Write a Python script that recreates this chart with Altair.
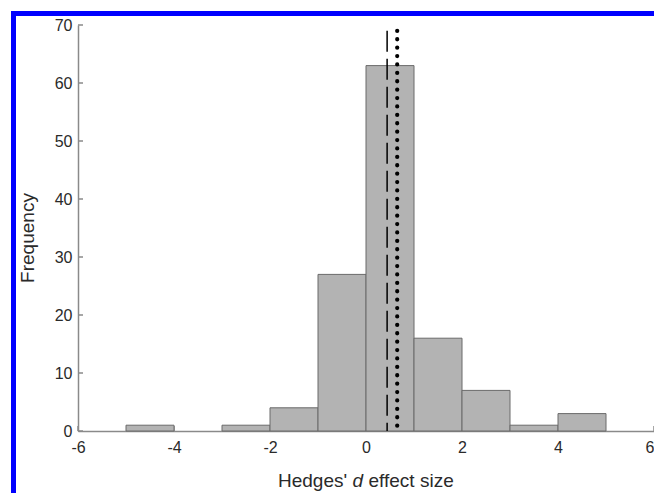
import altair as alt
import pandas as pd

# ---- data ----
bin_start = [-5, -4, -3, -2, -1, 0, 1, 2, 3, 4]
bin_end = [-4, -3, -2, -1, 0, 1, 2, 3, 4, 5]
counts = [1, 0, 1, 4, 27, 63, 16, 7, 1, 3]

dashed_x = [0.44]
dotted_x = [0.65]
line_top = [69]

x_ticks = [-6, -4, -2, 0, 2, 4, 6]
y_ticks = [0, 10, 20, 30, 40, 50, 60, 70]

x_title_parts = ["Hedges'", "d", "effect size"]
y_title = "Frequency"

FONT = "Liberation Sans, Arial, sans-serif"
AXIS_GRAY = "#8a8a8a"
TEXT = "#2a2a2a"

hist = pd.DataFrame({"start": bin_start, "end": bin_end, "count": counts})
xscale = alt.Scale(domain=[-6, 6], nice=False, zero=False)
yscale = alt.Scale(domain=[0, 70], nice=False)

x_axis = alt.Axis(values=x_ticks, title=None, grid=False, ticks=False, tickSize=0,
                  labelPadding=8, labelFlush=False, labelOverlap=False,
                  labelAlign={"expr": "datum.value == 6 ? 'right' : 'center'"},
                  labelExpr="'' + datum.value")
y_axis = alt.Axis(values=y_ticks, title=None, grid=False, ticks=False, tickSize=0,
                  labelPadding=6, labelOverlap=False,
                  labelExpr="'' + datum.value")

# inward tick marks
yt = alt.Chart(pd.DataFrame({"v": y_ticks})).mark_rule(
    color=AXIS_GRAY, strokeWidth=1.5
).encode(
    y=alt.Y("v:Q", scale=yscale, axis=y_axis),
    x=alt.value(0), x2=alt.value(5),
)
xt = alt.Chart(pd.DataFrame({"v": x_ticks})).mark_rule(
    color=AXIS_GRAY, strokeWidth=1.5
).encode(
    x=alt.X("v:Q", scale=xscale, axis=x_axis),
    y=alt.value(406), y2=alt.value(401),
)

bars = alt.Chart(hist).transform_filter("datum.count > 0").mark_bar(
    fill="#b3b3b3", stroke="#6a6a6a", strokeWidth=1
).encode(
    x=alt.X("start:Q", scale=xscale, axis=x_axis),
    x2="end:Q",
    y=alt.Y("count:Q", scale=yscale, axis=y_axis),
    y2=alt.datum(0),
)

dashed = alt.Chart(pd.DataFrame({"x": dashed_x, "top": line_top})).mark_rule(
    color="black", strokeWidth=1.5, strokeDash=[21, 7]
).encode(
    x=alt.X("x:Q", scale=xscale),
    y=alt.Y("top:Q", scale=yscale),
    y2=alt.datum(0),
)

dotted = alt.Chart(pd.DataFrame({"x": dotted_x, "top": line_top})).mark_rule(
    color="black", strokeWidth=4.2, strokeDash=[0.1, 8.3], strokeCap="round"
).encode(
    x=alt.X("x:Q", scale=xscale),
    y=alt.Y("top:Q", scale=yscale),
    y2=alt.datum(0),
)

# x-axis title built from three pieces (italic d)
fs = 19
t1 = alt.Chart(pd.DataFrame({"t": [x_title_parts[0]]})).mark_text(
    font=FONT, fontSize=fs, align="left", baseline="alphabetic", color=TEXT
).encode(text="t:N", x=alt.value(200), y=alt.value(462))
t2 = alt.Chart(pd.DataFrame({"t": [x_title_parts[1]]})).mark_text(
    font=FONT, fontSize=fs, fontStyle="italic", align="left", baseline="alphabetic",
    color=TEXT
).encode(text="t:N", x=alt.value(274.5), y=alt.value(462))
t3 = alt.Chart(pd.DataFrame({"t": [x_title_parts[2]]})).mark_text(
    font=FONT, fontSize=fs, align="left", baseline="alphabetic", color=TEXT
).encode(text="t:N", x=alt.value(290.5), y=alt.value(462))

ty = alt.Chart(pd.DataFrame({"t": [y_title]})).mark_text(
    font=FONT, fontSize=fs, angle=270, align="center", baseline="middle",
    color=TEXT
).encode(text="t:N", x=alt.value(-50), y=alt.value(213))

frame = alt.Chart(pd.DataFrame({"a": [0]})).mark_rect(
    fill="transparent", stroke="#0000ff", strokeWidth=5
).encode(
    x=alt.value(-64.5), x2=alt.value(600),
    y=alt.value(-11.5), y2=alt.value(520),
)

chart = alt.layer(xt, yt, bars, dashed, dotted, t1, t2, t3, ty, frame).properties(
    width=576, height=406,
    autosize=alt.AutoSizeParams(type="none"),
    padding={"left": 70, "top": 17, "right": 0, "bottom": 65},
).configure_view(
    stroke="transparent"
).configure_axis(
    domainColor=AXIS_GRAY, domainWidth=1.5,
    labelFont=FONT, labelFontSize=16, labelColor=TEXT,
)

chart.save("out.html", embed_options={"renderer": "svg", "actions": False})
